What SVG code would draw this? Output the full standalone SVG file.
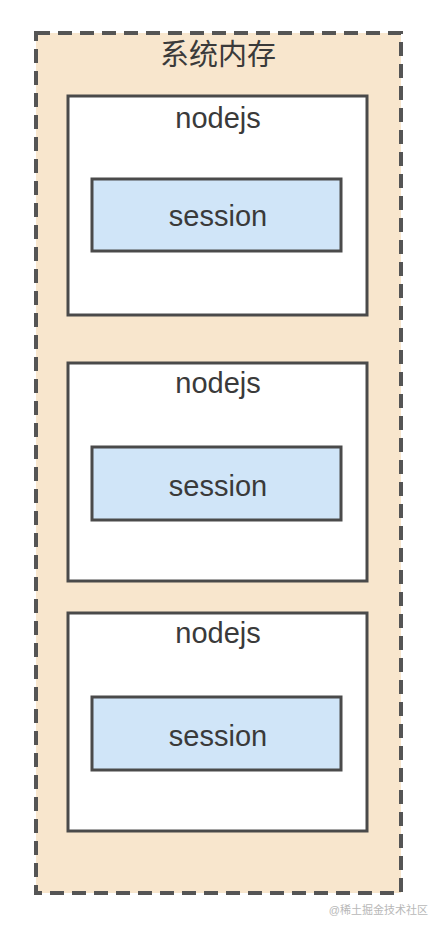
<svg xmlns="http://www.w3.org/2000/svg" width="444" height="930" viewBox="0 0 444 930">
<style>
.t{font-family:"Liberation Sans","Noto Sans CJK SC",sans-serif;font-size:29px;fill:#3a3a3a;text-anchor:middle}
.n{fill:#ffffff;stroke:#4a4a4a;stroke-width:3}
.s{fill:#d0e5f8;stroke:#4a4a4a;stroke-width:3}
</style>
<rect width="444" height="930" fill="#ffffff"/>
<g id="memory">
<rect x="36" y="33" width="365" height="860" fill="#f8e6cd" stroke="#555" stroke-width="4" stroke-dasharray="14,8"/>
<text class="t" x="218" y="65" font-size="28">系统内存</text>
</g>
<g id="node1">
<rect class="n" x="68" y="96" width="299" height="219"/>
<text class="t" x="218" y="128">nodejs</text>
</g>
<g id="session1">
<rect class="s" x="92" y="179" width="249" height="72"/>
<text class="t" x="218" y="226">session</text>
</g>
<g id="node2">
<rect class="n" x="68" y="363" width="299" height="218"/>
<text class="t" x="218" y="393">nodejs</text>
</g>
<g id="session2">
<rect class="s" x="92" y="447" width="249" height="73"/>
<text class="t" x="218" y="496">session</text>
</g>
<g id="node3">
<rect class="n" x="68" y="613" width="299" height="218"/>
<text class="t" x="218" y="643">nodejs</text>
</g>
<g id="session3">
<rect class="s" x="92" y="697" width="249" height="73"/>
<text class="t" x="218" y="746">session</text>
</g>
<g id="connectors"></g>
<text x="428" y="914" font-family="Liberation Sans,Noto Sans CJK SC,sans-serif" font-size="11" fill="#b8b8b8" text-anchor="end">@稀土掘金技术社区</text>
</svg>
